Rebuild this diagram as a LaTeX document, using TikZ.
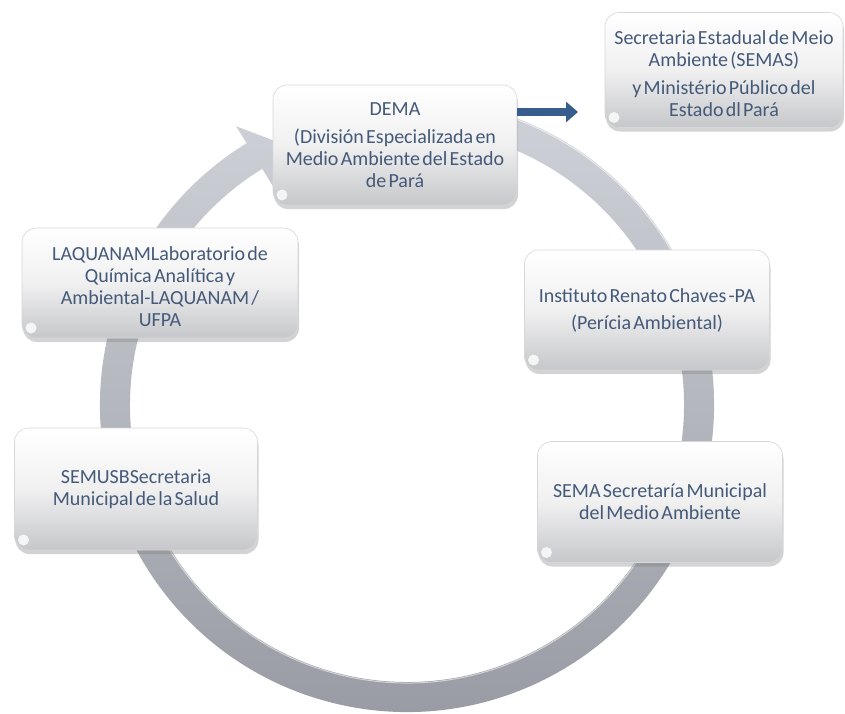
\documentclass[tikz,border=0pt]{standalone}
\usepackage{fontspec}
\setmainfont{Carlito}[WordSpace=0.5]
\usetikzlibrary{shadows,calc,arrows.meta}

\definecolor{ringlight}{RGB}{206,209,215}
\definecolor{ringdark}{RGB}{150,153,161}
\definecolor{boxmid}{RGB}{240,240,241}
\definecolor{boxbottom}{RGB}{198,199,202}
\definecolor{boxedge}{RGB}{214,215,218}
\definecolor{txt}{RGB}{68,90,120}
\definecolor{flow}{RGB}{55,93,140}

% a centred block of lines, set a little below the box centre
\newcommand{\lowlines}[2]{\raisebox{#1}[\height][\depth]{\begin{tabular}{@{}c@{}}#2\end{tabular}}}

\tikzset{
  glass/.style={
    rounded corners=14pt, draw=boxedge, line width=0.6pt,
    top color=white, bottom color=boxbottom, middle color=boxmid,
    drop shadow={shadow xshift=1pt, shadow yshift=-4pt, opacity=0.35, fill=gray},
    text=txt, align=center, inner sep=0pt,
    font=\fontsize{20}{22}\selectfont,
    path picture={\fill[white,opacity=.8] ($(path picture bounding box.south west)+(9pt,10pt)$) circle (5.5pt);}
  },
  flowarrow/.style={draw=flow, line width=8pt,
    -{Triangle[width=20pt,length=12pt]}},
}

\begin{document}
\begin{tikzpicture}[x=1pt,y=-1pt]
\useasboundingbox (0,0) rectangle (845,713);

% circular cycle arrow, running clockwise into DEMA
\begin{scope}[shift={(407,405)}, y=1pt]
  \shade[top color=ringlight, bottom color=ringdark]
    (75:307) arc[start angle=75, end angle=-238.5, radius=307]
    -- (-238.5:327) -- (-244:292) -- (-238.5:257) -- (-238.5:277)
    arc[start angle=-238.5, end angle=75, radius=277] -- cycle;
  \draw[white, opacity=.55, line width=1pt]
    (-10:278) arc[start angle=-10, end angle=-170, radius=278];
  \draw[white, opacity=.6, line width=1pt]
    (70:306) arc[start angle=70, end angle=20, radius=306];
\end{scope}

% boxes
\node[glass, minimum width=244pt, minimum height=120pt] (dema) at (395,145)
  {\lowlines{-2pt}{DEMA\\[6pt](División Especializada en\\Medio Ambiente del Estado\\de Pará}};

\node[glass, minimum width=238pt, minimum height=115pt] (semas) at (724,70)
  {\lowlines{-6pt}{Secretaria Estadual de Meio\\Ambiente (SEMAS)\\[6pt]y Ministério Público del\\Estado dl Pará}};

\node[glass, minimum width=276pt, minimum height=110pt] (laquanam) at (160,283)
  {\lowlines{-6pt}{LAQUANAMLaboratorio de\\Química Analítica y\\Ambiental-LAQUANAM /\\UFPA}};

\node[glass, minimum width=245pt, minimum height=120pt] (irc) at (647,310)
  {Instituto Renato Chaves -PA\\[5pt](Perícia Ambiental)};

\node[glass, minimum width=245pt, minimum height=121pt] (sema) at (660,502)
  {SEMA Secretaría Municipal\\del Medio Ambiente};

\node[glass, minimum width=243pt, minimum height=122pt] (semusb) at (136,489)
  {SEMUSBSecretaria\\Municipal de la Salud};

% hand-off from DEMA towards SEMAS
\coordinate (handoff) at (578,112);
\draw[flowarrow] ([yshift=33pt]dema.east) -- (handoff);
\end{tikzpicture}
\end{document}
